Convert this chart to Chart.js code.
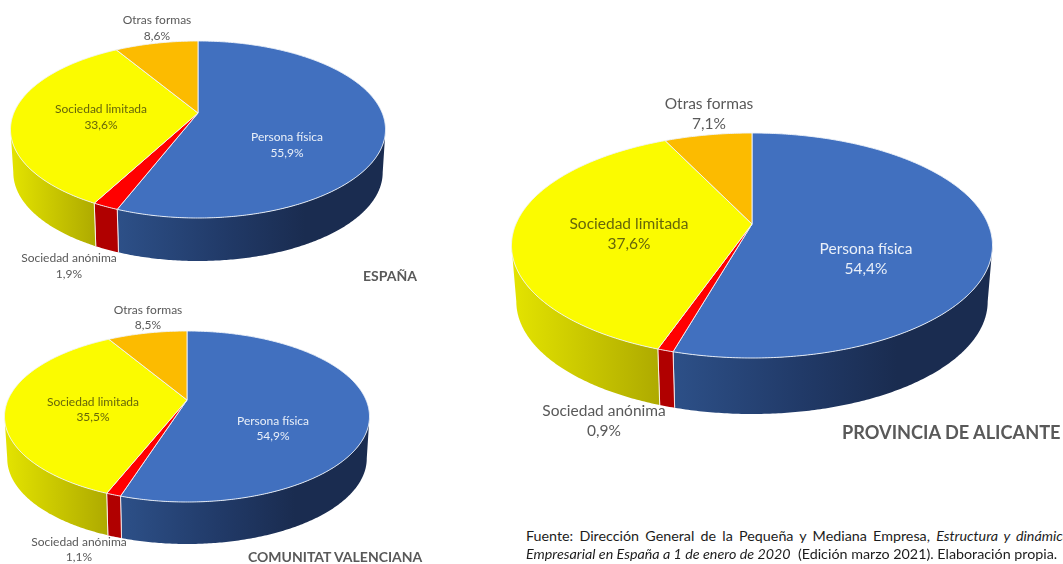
<!DOCTYPE html>
<html lang="es"><head><meta charset="utf-8">
<script src="https://cdn.jsdelivr.net/npm/chart.js@4"></script>
<style>
html,body{margin:0;padding:0;background:#fff;width:1063px;height:564px;overflow:hidden}
canvas{position:absolute}
.t{position:absolute;font-family:Lato,sans-serif;font-weight:700;color:#595959;white-space:nowrap;line-height:1}
.n{position:absolute;left:526px;width:544px;font:14.3px/18px Lato,sans-serif;color:#1c1c1c;white-space:nowrap;text-align:justify;text-align-last:justify}
.n.b{text-align-last:left;width:auto}
</style></head><body>
<div id="wrap"></div>
<div class="t" style="left:363px;top:269px;font-size:14px">ESPAÑA</div>
<div class="t" style="left:248px;top:550px;font-size:14px">COMUNITAT VALENCIANA</div>
<div class="t" style="left:842px;top:423px;font-size:18.2px">PROVINCIA DE ALICANTE</div>
<div class="n" style="top:527px">Fuente: Dirección General de la Pequeña y Mediana Empresa, <i>Estructura y dinámica</i></div>
<div class="n b" style="top:545px"><i>Empresarial en España a 1 de enero de 2020</i>&nbsp; (Edición marzo 2021). Elaboración propia.</div>
<script>
const categories = ['Persona física', 'Sociedad anónima', 'Sociedad limitada', 'Otras formas'];
const espana = [55.9, 1.9, 33.6, 8.6];
const valenciana = [54.9, 1.1, 35.5, 8.5];
const alicante = [54.4, 0.9, 37.6, 7.1];

const topColors = ['#4170BF', '#FF0000', '#FBFB00', '#FCBB00'];
const sideStops = [
  [[0, '#2D5088'], [0.4, '#213A68'], [0.7, '#1A2C50'], [1, '#1A2C50']],
  [[0, '#B00000'], [1, '#B00000']],
  [[0, '#E4E400'], [1, '#AEAA00']],
  [[0, '#B88800'], [1, '#B88800']]
];
const textColors = ['#E9EFF8', '#595959', '#66660A', '#595959'];

const pie3d = {
  id: 'pie3d',
  beforeDatasetsDraw(chart, args, o) {
    const ctx = chart.ctx, arcs = chart.getDatasetMeta(0).data;
    const cx0 = arcs[0].x, cy0 = arcs[0].y;
    const dT = o.dTop, dB = o.dBot;
    const p = (dB - dT) / (dB + dT);
    const B = dT * (1 + p), A = o.rx * Math.sqrt(1 - p * p);
    const proj = (a) => {
      const w = 1 - p * Math.sin(a);
      return [cx0 + A * Math.cos(a) / w, cy0 + B * Math.sin(a) / w];
    };
    const low = (a) => {
      const q = proj(a);
      return [cx0 + (q[0] - cx0) * o.lowScale, q[1] + o.depth];
    };
    const aMin = Math.asin(p), aMax = Math.PI - Math.asin(p);
    const samples = (s, e) => {
      const n = Math.max(2, Math.ceil((e - s) / 0.01)), r = [];
      for (let i = 0; i <= n; i++) r.push(s + (e - s) * i / n);
      return r;
    };
    // side walls
    arcs.forEach((el, i) => {
      const s = Math.max(el.startAngle, aMin), e = Math.min(el.endAngle, aMax);
      if (e <= s) return;
      const as = samples(s, e);
      const top = as.map(proj), bot = as.map(low).reverse();
      const xs = top.concat(bot).map(q => q[0]);
      const g = ctx.createLinearGradient(Math.min(...xs), 0, Math.max(...xs), 0);
      sideStops[i].forEach(t => g.addColorStop(t[0], t[1]));
      ctx.beginPath();
      top.concat(bot).forEach((q, k) => k ? ctx.lineTo(q[0], q[1]) : ctx.moveTo(q[0], q[1]));
      ctx.closePath();
      ctx.fillStyle = g; ctx.fill();
      ctx.strokeStyle = 'rgba(255,255,255,0.8)'; ctx.lineWidth = 1;
      ctx.beginPath();
      if (el.startAngle > aMin) { ctx.moveTo(top[0][0], top[0][1]); ctx.lineTo(bot[bot.length - 1][0], bot[bot.length - 1][1]); }
      if (el.endAngle < aMax) { ctx.moveTo(top[top.length - 1][0], top[top.length - 1][1]); ctx.lineTo(bot[0][0], bot[0][1]); }
      ctx.stroke();
    });
    // top faces
    arcs.forEach((el, i) => {
      ctx.beginPath();
      ctx.moveTo(cx0, cy0);
      samples(el.startAngle, el.endAngle).map(proj).forEach(q => ctx.lineTo(q[0], q[1]));
      ctx.closePath();
      ctx.fillStyle = topColors[i]; ctx.fill();
      ctx.strokeStyle = 'rgba(240,244,250,0.9)'; ctx.lineWidth = 1; ctx.lineJoin = 'round'; ctx.stroke();
    });
    // labels
    const vals = chart.data.datasets[0].data;
    ctx.font = o.font + 'px Lato, sans-serif';
    ctx.textAlign = 'center'; ctx.textBaseline = 'middle';
    chart.data.labels.forEach((lab, i) => {
      const [x, y] = o.labels[i];
      ctx.fillStyle = textColors[i];
      ctx.fillText(lab, x, y);
      ctx.fillText(vals[i].toFixed(1).replace('.', ',') + '%', x, y + o.gap);
    });
    return false;
  }
};

function makePie(left, top, w, h, pad, values, opt) {
  const c = document.createElement('canvas');
  c.width = w; c.height = h;
  c.style.left = left + 'px'; c.style.top = top + 'px';
  c.style.width = w + 'px'; c.style.height = h + 'px';
  document.getElementById('wrap').appendChild(c);
  new Chart(c, {
    type: 'pie',
    data: { labels: categories, datasets: [{ data: values, backgroundColor: topColors, borderWidth: 0 }] },
    options: {
      responsive: false, animation: false,
      layout: { padding: pad },
      plugins: { legend: { display: false }, tooltip: { enabled: false }, pie3d: opt }
    },
    plugins: [pie3d]
  });
}

makePie(0, 0, 420, 290, { right: 24, bottom: 64 }, espana, {
  dTop: 72, dBot: 105, rx: 187.5, depth: 43, lowScale: 0.985, font: 12, gap: 16,
  labels: [[287, 137], [69, 258], [101, 109], [157, 20]]
});
makePie(0, 295, 430, 269, { right: 56, bottom: 59 }, valenciana, {
  dTop: 69, dBot: 102, rx: 182.5, depth: 42, lowScale: 0.985, font: 12, gap: 15.5,
  labels: [[273, 126], [79, 247], [93, 107], [148, 15]]
});
makePie(500, 90, 563, 350, { right: 59, bottom: 82 }, alicante, {
  dTop: 91, dBot: 134, rx: 240.5, depth: 56, lowScale: 0.98, font: 15.5, gap: 20,
  labels: [[366, 159], [104, 321], [129, 134], [209, 14]]
});
</script>
</body></html>
